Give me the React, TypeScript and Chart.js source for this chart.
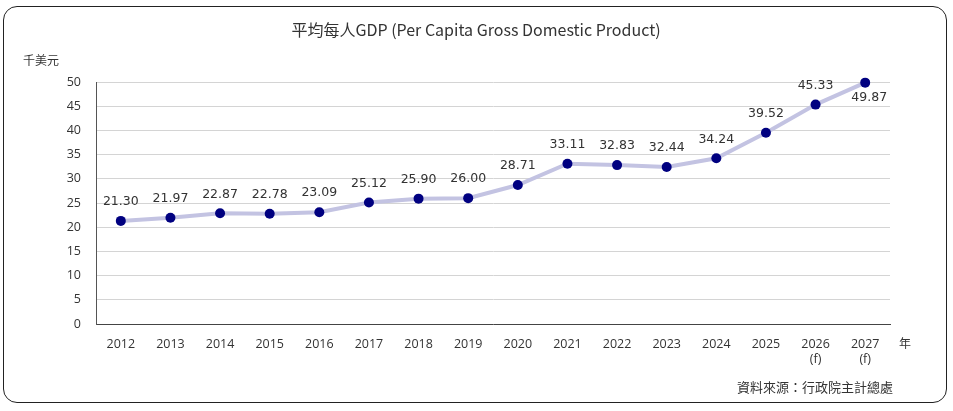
import React, { useEffect, useRef } from 'react';
import { Chart, registerables } from 'chart.js';

Chart.register(...registerables);

const years = ['2012', '2013', '2014', '2015', '2016', '2017', '2018', '2019', '2020', '2021', '2022', '2023', '2024', '2025', '2026', '2027'];
const forecastYears = ['2026', '2027'];
const gdpPerCapita = [21.3, 21.97, 22.87, 22.78, 23.09, 25.12, 25.9, 26.0, 28.71, 33.11, 32.83, 32.44, 34.24, 39.52, 45.33, 49.87];
const yTicks = [0, 5, 10, 15, 20, 25, 30, 35, 40, 45, 50];

const TITLE = '平均每人GDP (Per Capita Gross Domestic Product)';
const Y_UNIT = '千美元';
const X_UNIT = '年';
const SOURCE = '資料來源：行政院主計總處';

const CJK = '"Noto Sans CJK TC", "Noto Sans", sans-serif';
const TICK_FONT = '"Open Sans", "Noto Sans", sans-serif';

// draws title, unit labels, source and the value labels
const textPlugin = {
  id: 'texts',
  afterDatasetsDraw(chart: Chart) {
    const { ctx } = chart;
    ctx.save();
    ctx.fillStyle = '#333';
    ctx.textBaseline = 'middle';

    ctx.font = `16px ${CJK}`;
    ctx.textAlign = 'center';
    ctx.fillText(TITLE, 476, 30);

    ctx.font = `12px ${CJK}`;
    ctx.fillText(Y_UNIT, 41, 60);
    ctx.fillText(X_UNIT, 905, 343);

    ctx.font = `13px ${CJK}`;
    ctx.textAlign = 'right';
    ctx.fillText(SOURCE, 893, 387);

    const meta = chart.getDatasetMeta(0);
    ctx.font = '12.5px "DejaVu Sans", sans-serif';
    ctx.textAlign = 'center';
    meta.data.forEach((pt, i) => {
      const text = gdpPerCapita[i].toFixed(2);
      if (i === gdpPerCapita.length - 1) {
        ctx.fillText(text, pt.x + 4, pt.y + 15);
      } else {
        ctx.fillText(text, pt.x, pt.y - 19);
      }
    });
    ctx.restore();
  },
};

export default function App() {
  const canvasRef = useRef<HTMLCanvasElement>(null);
  const chartRef = useRef<Chart | null>(null);

  useEffect(() => {
    document.body.style.margin = '0';
    if (!canvasRef.current) return;
    if (chartRef.current) chartRef.current.destroy();

    chartRef.current = new Chart(canvasRef.current, {
      type: 'line',
      data: {
        labels: years.map(y => (forecastYears.includes(y) ? [y, '(f)'] : y)),
        datasets: [
          {
            data: gdpPerCapita,
            borderColor: '#c3c3e2',
            borderWidth: 4,
            pointBackgroundColor: '#000080',
            pointBorderColor: '#000080',
            pointRadius: 5,
            pointBorderWidth: 0,
            tension: 0,
            clip: false,
          },
        ],
      },
      options: {
        responsive: true,
        maintainAspectRatio: false,
        animation: false,
        layout: { padding: { top: 82, right: 63, left: 0, bottom: 0 } },
        plugins: {
          legend: { display: false },
          tooltip: { enabled: false },
          title: { display: false },
        },
        scales: {
          x: {
            offset: true,
            grid: { display: false },
            border: { color: '#444', width: 1 },
            ticks: {
              color: '#333',
              font: { family: TICK_FONT, size: 12.5 },
              padding: 5,
              maxRotation: 0,
              autoSkip: false,
            },
            afterFit: (scale: any) => {
              scale.height = 87;
            },
          },
          y: {
            min: 0,
            max: 50,
            afterBuildTicks: (scale: any) => {
              scale.ticks = yTicks.map(v => ({ value: v }));
            },
            grid: { color: '#d4d4d4', lineWidth: 1, drawTicks: false },
            border: { color: '#555', width: 1 },
            ticks: {
              color: '#333',
              font: { family: TICK_FONT, size: 12.5 },
              padding: 15,
            },
            afterFit: (scale: any) => {
              scale.width = 96;
            },
          },
        },
      },
      plugins: [textPlugin],
    });

    return () => {
      if (chartRef.current) {
        chartRef.current.destroy();
        chartRef.current = null;
      }
    };
  }, []);

  return (
    <div style={{ position: 'relative', width: 953, height: 411, background: '#fff' }}>
      <div
        style={{
          position: 'absolute',
          left: 3,
          top: 6,
          width: 944,
          height: 397,
          boxSizing: 'border-box',
          border: '1.5px solid #222',
          borderRadius: 14,
        }}
      />
      <div style={{ position: 'absolute', left: 0, top: 0, width: 953, height: 411 }}>
        <canvas ref={canvasRef} />
      </div>
    </div>
  );
}
